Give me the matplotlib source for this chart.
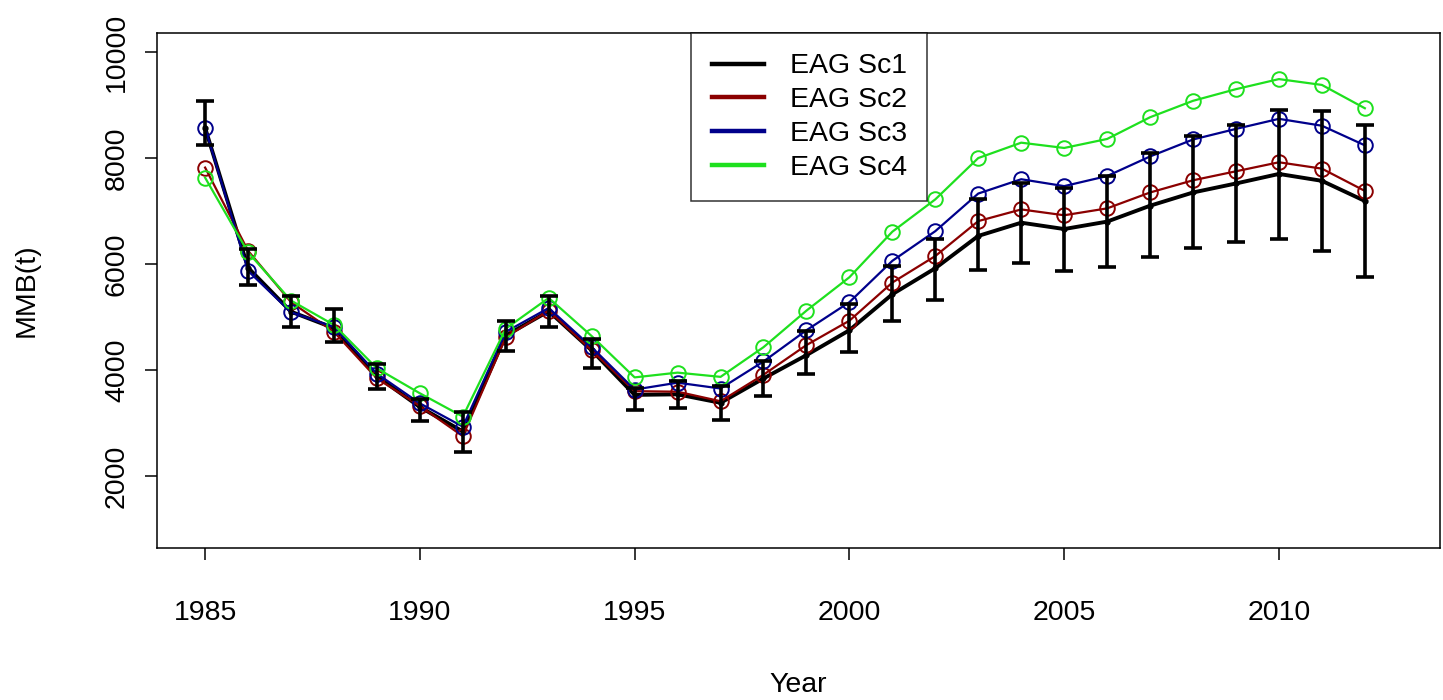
import matplotlib
matplotlib.use("Agg")
import matplotlib.pyplot as plt
from matplotlib.lines import Line2D
import numpy as np

# Mature male biomass (t) by year for the four EAG scenarios
years = list(range(1985, 2013))

sc1 = [8570, 5930, 5100, 4790, 3880, 3300, 2840, 4650, 5110, 4370,
       3530, 3540, 3380, 3840, 4280, 4750, 5430, 5920, 6530, 6780,
       6660, 6800, 7100, 7350, 7520, 7700, 7570, 7190]
sc1_low = [8250, 5600, 4810, 4530, 3640, 3040, 2460, 4350, 4820, 4040,
           3245, 3280, 3060, 3500, 3930, 4340, 4930, 5330, 5890, 6020,
           5860, 5940, 6140, 6300, 6420, 6480, 6250, 5760]
sc1_high = [9070, 6280, 5400, 5160, 4120, 3460, 3210, 4930, 5400, 4590,
            3660, 3800, 3690, 4160, 4740, 5250, 5960, 6470, 7220, 7530,
            7440, 7660, 8090, 8420, 8630, 8900, 8880, 8620]
sc2 = [7820, 6250, 5280, 4720, 3840, 3320, 2750, 4620, 5120, 4370,
       3600, 3590, 3410, 3910, 4470, 4930, 5650, 6150, 6810, 7030,
       6920, 7050, 7350, 7580, 7750, 7920, 7800, 7380]
sc3 = [8570, 5870, 5090, 4810, 3930, 3370, 2930, 4720, 5170, 4430,
       3630, 3760, 3650, 4160, 4750, 5280, 6060, 6620, 7330, 7600,
       7470, 7660, 8030, 8350, 8550, 8740, 8610, 8240]
sc4 = [7630, 6220, 5310, 4850, 4030, 3560, 3120, 4780, 5360, 4640,
       3860, 3950, 3870, 4430, 5120, 5750, 6610, 7220, 8000, 8290,
       8190, 8360, 8770, 9080, 9300, 9490, 9380, 8940]

series_labels = ["EAG Sc1", "EAG Sc2", "EAG Sc3", "EAG Sc4"]
series_colors = ["black", "#8B0000", "#00008B", "#1EE01E"]
x_ticks = [1985, 1990, 1995, 2000, 2005, 2010]
y_ticks = [2000, 4000, 6000, 8000, 10000]

plt.rcParams['font.family'] = ['Liberation Sans', 'DejaVu Sans']
FS = 20.5

W, H = 1443, 700
fig = plt.figure(figsize=(W / 100, H / 100), dpi=100)
ax = fig.add_axes([157 / W, 1 - 548 / H, (1440 - 157) / W, (548 - 33) / H])

# Scenario 1: thick line with small filled points
ax.plot(years, sc1, color=series_colors[0], lw=2.8, marker='o', ms=3.5,
        zorder=2)

# Other scenarios: thin lines with open circles
for vals, col in zip([sc2, sc3, sc4], series_colors[1:]):
    ax.plot(years, vals, color=col, lw=1.6, marker='o', ms=10.5,
            mfc='none', mec=col, mew=1.4, zorder=3)

# Confidence bars for scenario 1
s1 = np.array(sc1)
yerr = [s1 - np.array(sc1_low), np.array(sc1_high) - s1]
ax.errorbar(years, sc1, yerr=yerr, fmt='none', ecolor='black',
            elinewidth=2.6, capsize=6.5, capthick=2.6, zorder=5)

ax.set_xlim(1983.88, 2013.75)
ax.set_ylim(640, 10360)
ax.set_xticks(x_ticks)
ax.set_yticks(y_ticks)
ax.set_xticklabels([str(v) for v in x_ticks], fontsize=FS)
ax.set_yticklabels([str(v) for v in y_ticks], fontsize=FS, rotation=90,
                   va='center')
ax.tick_params(axis='both', direction='out', length=8.5, width=1.1,
               color='black')
ax.tick_params(axis='x', pad=29)
ax.tick_params(axis='y', pad=11)
for sp in ax.spines.values():
    sp.set_linewidth(1.1)
    sp.set_color('black')

ax.set_xlabel("Year", fontsize=FS, labelpad=33)
ax.set_ylabel("MMB(t)", fontsize=FS, labelpad=46)

handles = [Line2D([0], [0], color=c, lw=3.2) for c in series_colors]
leg = ax.legend(handles, series_labels, loc='upper left',
                bbox_to_anchor=((691 - 157) / (1440 - 157), 1.0),
                borderaxespad=0, fontsize=FS, frameon=True, fancybox=False,
                handlelength=1.85, handletextpad=0.9, labelspacing=0.27,
                borderpad=0.72)
leg.get_frame().set_edgecolor('black')
leg.get_frame().set_linewidth(1.1)

fig.savefig("out.png", dpi=100, facecolor='white')
